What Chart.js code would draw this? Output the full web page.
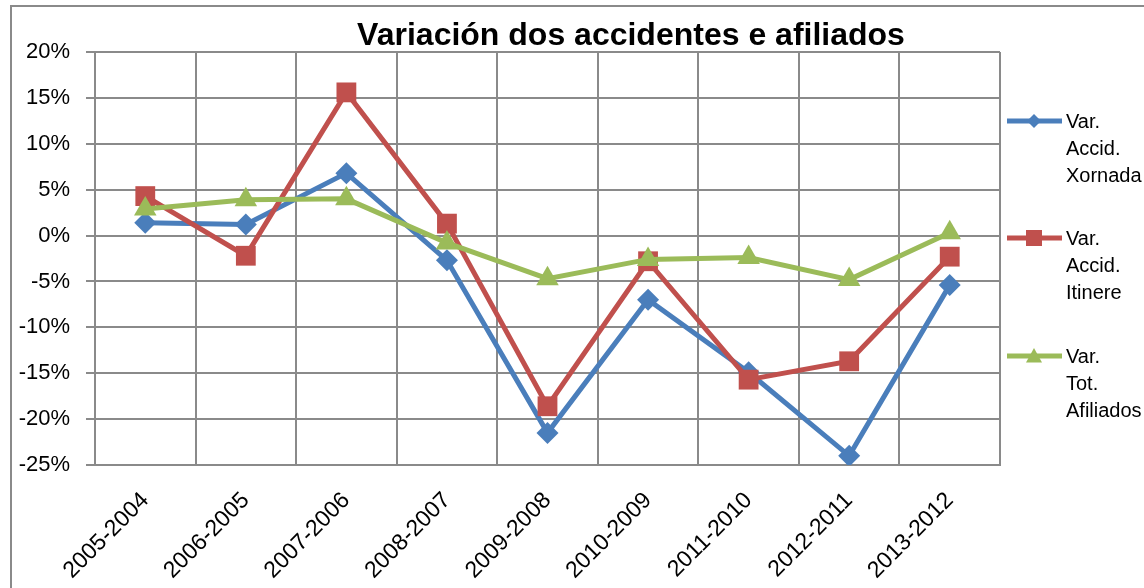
<!DOCTYPE html>
<html>
<head>
<meta charset="utf-8">
<script src="https://cdn.jsdelivr.net/npm/chart.js@4.4.1/dist/chart.umd.min.js"></script>
<style>
  body { margin: 0; background: #fff; }
  #wrap { position: relative; width: 1144px; height: 588px; }
</style>
</head>
<body>
<div id="wrap"><canvas id="chart" width="1144" height="588"></canvas></div>
<script>
// periods compared (year vs previous year)
const periods = ['2005-2004', '2006-2005', '2007-2006', '2008-2007', '2009-2008',
                 '2010-2009', '2011-2010', '2012-2011', '2013-2012'];

// variation in %
const accidXornada = [1.4, 1.2, 6.8, -2.7, -21.5, -7.0, -14.9, -24.0, -5.4];
const accidItinere = [4.3, -2.2, 15.6, 1.3, -18.6, -2.8, -15.7, -13.7, -2.3];
const totAfiliados = [2.9, 3.9, 4.0, -0.8, -4.7, -2.6, -2.4, -4.8, 0.3];

const seriesNames = ['Var. Accid. Xornada', 'Var. Accid. Itinere', 'Var. Tot. Afiliados'];
const yTicks = [-25, -20, -15, -10, -5, 0, 5, 10, 15, 20];

const gridColor = '#8a8a8a';
const fontFamily = '"Liberation Sans", Arial, sans-serif';

// title + outer border + legend drawn on the canvas
const decorPlugin = {
    id: 'decor',
    afterDraw(chart) {
        const ctx = chart.ctx;
        ctx.save();

        // outer chart border
        ctx.strokeStyle = '#8a8a8a';
        ctx.lineWidth = 2;
        ctx.beginPath();
        ctx.moveTo(11, 600);
        ctx.lineTo(11, 6);
        ctx.lineTo(1150, 6);
        ctx.stroke();

        // title
        ctx.fillStyle = '#000';
        ctx.font = 'bold 32px ' + fontFamily;
        ctx.textAlign = 'center';
        ctx.textBaseline = 'alphabetic';
        ctx.fillText('Variación dos accidentes e afiliados', 631, 45);

        // legend
        const rowsY = [121, 238, 356];
        chart.data.datasets.forEach((ds, i) => {
            const y = rowsY[i];
            ctx.strokeStyle = ds.borderColor;
            ctx.lineWidth = 5;
            ctx.beginPath();
            ctx.moveTo(1007, y);
            ctx.lineTo(1062, y);
            ctx.stroke();
            ctx.fillStyle = ds.backgroundColor;
            ctx.beginPath();
            const r = ds.legendRadius;
            if (ds.pointStyle === 'rectRot') {
                ctx.moveTo(1034, y - r); ctx.lineTo(1034 + r, y);
                ctx.lineTo(1034, y + r); ctx.lineTo(1034 - r, y);
            } else if (ds.pointStyle === 'rect') {
                ctx.rect(1034 - r, y - r, 2 * r, 2 * r);
            } else {
                ctx.moveTo(1034, y - r); ctx.lineTo(1034 + r, y + r * 0.8);
                ctx.lineTo(1034 - r, y + r * 0.8);
            }
            ctx.closePath();
            ctx.fill();

            ctx.fillStyle = '#000';
            ctx.font = '20px ' + fontFamily;
            ctx.textAlign = 'left';
            ctx.textBaseline = 'alphabetic';
            ds.label.split(' ').forEach((word, k) => {
                ctx.fillText(word, 1066, y + 7 + k * 27);
            });
        });
        ctx.restore();
    }
};

const ctx = document.getElementById('chart').getContext('2d');

new Chart(ctx, {
    type: 'line',
    data: {
        labels: periods,
        datasets: [{
            label: seriesNames[0],
            data: accidXornada,
            borderColor: '#4a7ebb',
            backgroundColor: '#4a7ebb',
            pointStyle: 'rectRot',
            pointRadius: 11,
            legendRadius: 7,
            order: 3
        }, {
            label: seriesNames[1],
            data: accidItinere,
            borderColor: '#c0504d',
            backgroundColor: '#c0504d',
            pointStyle: 'rect',
            pointRadius: 14,
            legendRadius: 8,
            order: 2
        }, {
            label: seriesNames[2],
            data: totAfiliados,
            borderColor: '#9bbb59',
            backgroundColor: '#9bbb59',
            pointStyle: 'triangle',
            pointRadius: 13,
            legendRadius: 8,
            order: 1
        }]
    },
    options: {
        responsive: false,
        animation: false,
        layout: { padding: { left: 0, top: 52, right: 144, bottom: 0 } },
        elements: {
            line: { borderWidth: 5, tension: 0 },
            point: { borderWidth: 0, hoverRadius: 11 }
        },
        plugins: {
            legend: { display: false },
            title: { display: false },
            tooltip: { enabled: false }
        },
        scales: {
            x: {
                offset: true,
                grid: { offset: true, color: gridColor, lineWidth: 2, drawTicks: false },
                border: { color: gridColor, width: 2 },
                ticks: {
                    color: '#000',
                    font: { family: fontFamily, size: 23 },
                    minRotation: 45,
                    maxRotation: 45,
                    padding: 22,
                    autoSkip: false
                },
                afterFit(scale) { scale.height = 588 - 465; }
            },
            y: {
                min: -25,
                max: 20,
                afterBuildTicks(scale) { scale.ticks = yTicks.map(v => ({ value: v })); },
                grid: { color: gridColor, lineWidth: 2, tickLength: 9 },
                border: { color: gridColor, width: 2 },
                ticks: {
                    color: '#000',
                    font: { family: fontFamily, size: 22 },
                    padding: 16,
                    callback: v => v + '%'
                },
                afterFit(scale) { scale.width = 95; }
            }
        }
    },
    plugins: [decorPlugin]
});
</script>
</body>
</html>
